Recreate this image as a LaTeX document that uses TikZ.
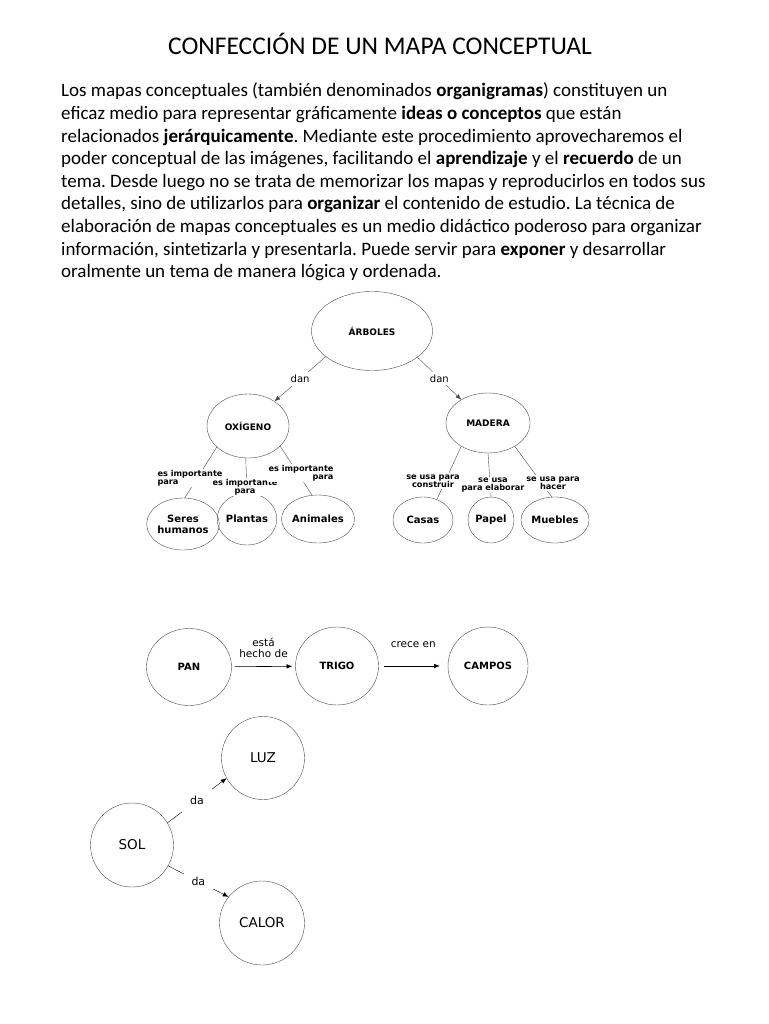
\documentclass[tikz,border=0pt]{standalone}
\usepackage{fontspec}
\setmainfont{Carlito}
\newfontfamily\mapfont{DejaVu Sans}
\usetikzlibrary{shapes.geometric,arrows.meta,positioning}
\frenchspacing

\begin{document}
\begin{tikzpicture}[x=1pt,y=-1pt,>={Latex[length=2mm,width=1.6mm]},
  txt/.style={anchor=base west,inner sep=0pt,font=\fontsize{19}{22}\selectfont},
  concept/.style={draw=black!70,ellipse,inner sep=0pt,align=center,font=\mapfont\fontsize{9}{10}\selectfont\bfseries},
  leaf/.style={concept,font=\mapfont\fontsize{10}{11}\selectfont\bfseries},
  bigconcept/.style={concept,font=\mapfont\fontsize{10}{11}\selectfont\bfseries},
  sunconcept/.style={concept,font=\mapfont\fontsize{13.5}{14}\selectfont},
  link/.style={fill=white,inner sep=1pt,align=center,font=\mapfont\fontsize{8.2}{8.4}\selectfont\bfseries},
  danlink/.style={fill=white,inner sep=3pt,font=\mapfont\fontsize{10}{10}\selectfont},
  biglink/.style={inner sep=1pt,align=center,font=\mapfont\fontsize{10.5}{10.5}\selectfont},
  sunlink/.style={fill=white,inner sep=8pt,font=\mapfont\fontsize{11}{11}\selectfont},
  rel/.style={draw=black!70}]
  \useasboundingbox (0,0) rectangle (768,1024);
  % title and text
  \node[anchor=base,inner sep=0pt,font=\fontsize{25.5}{28}\selectfont] (title) at (380,55) {CONFECCIÓN DE UN MAPA CONCEPTUAL};
  \node[txt] (l1) at (61,97) {Los mapas conceptuales (también denominados \textbf{organigramas}) constituyen un};
  \node[txt] (l2) at (61,119.6) {eficaz medio para representar gráficamente \textbf{ideas o conceptos} que están};
  \node[txt] (l3) at (61,142.2) {relacionados \textbf{jerárquicamente}. Mediante este procedimiento aprovecharemos el};
  \node[txt] (l4) at (61,164.8) {poder conceptual de las imágenes, facilitando el \textbf{aprendizaje} y el \textbf{recuerdo} de un};
  \node[txt] (l5) at (61,187.4) {tema. Desde luego no se trata de memorizar los mapas y reproducirlos en todos sus};
  \node[txt] (l6) at (61,210) {detalles, sino de utilizarlos para \textbf{organizar} el contenido de estudio. La técnica de};
  \node[txt] (l7) at (61,232.6) {elaboración de mapas conceptuales es un medio didáctico poderoso para organizar};
  \node[txt] (l8) at (61,255.2) {información, sintetizarla y presentarla. Puede servir para \textbf{exponer} y desarrollar};
  \node[txt] (l9) at (61,277.8) {oralmente un tema de manera lógica y ordenada.};

  % first map
  \node[concept,minimum width=121,minimum height=79] (arb) at (372,331) {ÁRBOLES};
  \node[concept,minimum width=82,minimum height=64] (oxi) at (248,426) {OXÍGENO};
  \node[concept,minimum width=84,minimum height=60] (mad) at (488,423) {MADERA};
  \node[leaf,minimum width=56,minimum height=52] (ser) at (183,524) {Seres\\humanos};
  \node[leaf,minimum width=52,minimum height=52] (pla) at (247,519) {Plantas};
  \node[leaf,minimum width=58,minimum height=48] (ani) at (318,519) {Animales};
  \node[leaf,minimum width=60,minimum height=46] (cas) at (423,520) {Casas};
  \node[leaf,minimum width=46,minimum height=46] (pap) at (491,520) {Papel};
  \node[leaf,minimum width=68,minimum height=46] (mue) at (555,520) {Muebles};
  \draw[rel,->] (arb.209) -- node[danlink] (dan1) {dan} (oxi.43);
  \draw[rel,->] (arb.-30) -- node[danlink] (dan2) {dan} (mad.139);
  \draw[rel] (oxi.214) -- (ser.86);
  \draw[rel] (oxi.266) -- (pla.90);
  \draw[rel] (oxi.-32) -- (ani.104);
  \draw[rel] (mad.221) -- (cas.56);
  \draw[rel] (mad.270) -- (pap.90);
  \draw[rel] (mad.-41) -- (mue.98);
  \node[link,align=left] (imp1) at (190,478) {es importante\\para};
  \node[link] (imp2) at (245,487) {es importante\\para};
  \node[link,align=right] (imp3) at (301,473) {es importante\\para};
  \node[link] (usa1) at (433,481) {se usa para\\construir};
  \node[link] (usa2) at (493,485) {se usa\\para elaborar};
  \node[link] (usa3) at (553,483) {se usa para\\hacer};

  % second map
  \node[bigconcept,minimum width=85,minimum height=77] (pan) at (189,667) {PAN};
  \node[bigconcept,minimum width=83,minimum height=78] (tri) at (337,666) {TRIGO};
  \node[bigconcept,minimum width=80,minimum height=78] (cam) at (488,666) {CAMPOS};
  \draw[->,semithick,shorten <=3pt,shorten >=3pt] (pan) -- node[biglink,above=8pt] (hec) {está\\hecho de} (tri);
  \draw[->,semithick,shorten <=5pt,shorten >=8pt] (tri) -- node[biglink,above=17pt] (cre) {crece en} (cam);

  % third map
  \node[sunconcept,minimum width=83,minimum height=84] (sol) at (132,845) {SOL};
  \node[sunconcept,minimum width=83,minimum height=83] (luz) at (263,758) {LUZ};
  \node[sunconcept,minimum width=85,minimum height=84] (cal) at (262,923) {CALOR};
  \draw[->] (sol.32) -- node[sunlink] (da1) {da} (luz.209);
  \draw[->] (sol.-30) -- node[sunlink] (da2) {da} (cal.142);
\end{tikzpicture}
\end{document}
